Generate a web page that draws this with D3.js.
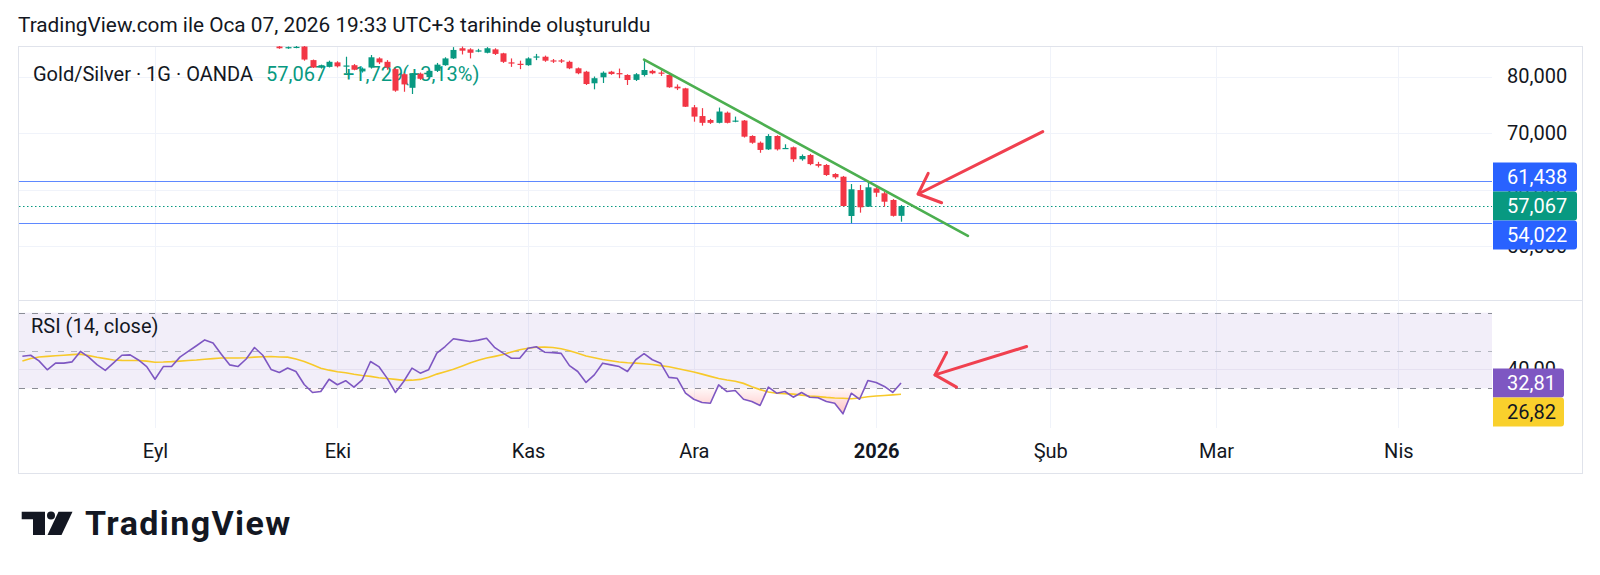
<!DOCTYPE html>
<html><head><meta charset="utf-8">
<script src="https://cdn.jsdelivr.net/npm/d3@7"></script>
<style>html,body{margin:0;padding:0;background:#fff;}svg{display:block;font-family:Roboto,"Noto Sans",sans-serif;}</style>
</head><body><svg id="c" width="1600" height="575"></svg>
<script>
// ---------------- data ----------------
const firstBarDate = "2025-08-08";          // first bar with an RSI value (left edge of chart)
const lastCalendarDate = "2026-04-30";
const holidays = ["2025-12-25", "2026-01-01"];
const candleStartDate = "2025-09-22";

const rsiValues = [47.0,47.5,44.5,39.8,43.3,43.3,44.0,49.5,46.5,42.5,39.5,43.5,47.5,47.7,45.0,41.5,
  34.8,41.5,41.5,46.5,49.5,52.5,55.6,54.0,48.0,42.4,
  41.5,45.5,51.6,47.5,40.0,38.4,40.7,38.9,32.0,27.8,
  28.3,34.8,31.9,34.0,30.6,34.5,44.2,41.5,35.4,27.8,
  33.6,40.7,38.0,39.8,48.6,52.1,56.2,55.5,54.8,55.5,
  56.5,51.5,48.6,45.9,45.9,51.2,52.0,49.1,48.9,48.5,
  42.0,38.9,33.1,37.1,43.3,42.4,41.5,38.9,45.1,48.3,
  45.1,43.3,35.8,35.3,27.4,24.2,22.5,22.1,31.8,28.3,
  28.8,24.2,23.0,20.9,30.6,27.4,28.3,25.3,27.8,25.3,
  25.0,23.0,22.1,16.5,27.4,24.2,34.1,33.1,31.0,27.8,32.81];
const rsiMaValues = [44.4,45.8,46.6,46.9,47.2,47.5,47.8,48.1,47.3,46.4,45.7,45.0,44.8,44.7,44.7,44.4,
  43.8,43.9,44.1,44.4,44.7,45.0,45.4,45.7,46.0,46.0,
  46.0,46.2,46.5,46.7,46.8,46.6,46.5,45.5,44.2,42.5,
  40.6,39.6,38.8,38.2,37.4,36.8,36.3,35.6,35.2,34.7,
  34.2,34.3,34.7,35.8,37.5,38.8,40.1,41.7,43.4,44.8,
  46.0,46.9,47.9,49.2,50.4,51.2,51.7,51.8,51.6,50.9,
  49.9,48.6,47.1,46.2,45.2,44.6,43.9,43.5,43.3,43.0,
  42.6,42.0,41.4,40.5,39.5,38.6,37.5,36.3,35.2,34.4,
  33.7,32.6,30.8,29.3,28.0,27.4,27.2,26.9,26.4,25.9,
  25.6,25.2,24.9,24.7,24.5,24.9,25.5,25.9,26.2,26.5,26.82];

const opens = [85.3,85.0,85.1,85.3,82.9,81.6,81.7,82.5,81.85,82.0,80.9,81.6,83.2,82.6,81.3,80.4,78.0,80.5,79.9,81.0,
  82.0,83.2,85.0,84.8,84.55,84.2,84.8,84.1,82.5,82.25,82.0,83.45,83.5,82.85,82.85,82.6,81.45,80.85,78.8,79.86,
  80.85,80.6,80.27,79.4,80.27,81.0,80.7,80.27,78.2,77.9,74.55,73.0,72.3,71.8,73.6,72.1,72.2,69.47,68.28,67.1,
  69.47,67.25,67.47,65.35,66.1,64.5,64.34,62.74,62.26,55.31,59.9,56.96,60.2,59.33,58.14,55.338];
const highs = [85.5,85.3,85.4,85.5,83.0,82.1,82.8,82.7,83.5,82.2,81.6,83.8,83.4,82.9,81.5,80.6,80.6,80.7,81.2,82.4,
  83.4,85.2,85.3,85.0,84.9,85.2,85.0,84.2,83.2,82.8,83.4,84.0,83.7,83.1,83.1,82.8,81.6,81.0,80.0,80.9,
  81.0,81.4,80.4,80.6,83.0,81.2,81.1,80.4,78.6,78.0,74.96,74.4,72.5,74.5,73.8,72.9,72.3,69.6,68.5,69.8,
  69.6,68.0,67.6,66.2,66.3,64.9,64.5,62.9,62.4,60.97,60.8,61.438,60.5,59.6,58.3,57.26];
const lows = [84.9,84.9,85.0,82.8,81.5,81.4,81.6,81.6,80.6,81.1,80.7,81.4,82.2,81.2,77.3,77.3,76.9,79.4,79.7,80.8,
  81.9,83.1,83.9,83.2,84.3,84.1,83.8,82.4,81.7,81.3,81.9,82.9,82.6,82.4,82.4,81.3,80.4,78.5,77.73,78.85,
  80.3,79.7,78.5,79.2,80.0,80.4,80.1,78.0,77.6,74.6,72.0,71.3,71.6,71.7,71.7,71.9,69.2,68.1,66.5,67.0,
  66.9,67.2,64.9,65.1,64.3,63.9,62.4,61.9,57.0,54.02,55.9,56.9,58.7,56.96,55.2,54.3];
const closes = [85.0,85.2,85.25,83.0,81.6,82.0,82.6,81.8,81.95,81.2,81.4,83.4,82.5,81.6,77.5,78.6,80.5,79.6,81.0,82.1,
  83.2,84.7,84.57,84.2,84.62,85.0,84.0,82.6,82.4,82.15,83.2,83.55,82.8,82.75,82.75,81.45,80.57,78.67,79.7,80.67,
  80.44,80.5,79.38,80.4,81.15,80.57,80.6,78.09,77.9,74.65,72.9,71.8,71.8,73.8,71.8,72.2,69.35,68.28,67.0,69.47,
  67.1,67.35,65.35,65.93,64.5,64.2,62.57,62.16,57.08,60.04,56.85,60.39,59.43,57.84,55.338,57.067];

const priceTicks = [80, 70, 60, 50];
const rsiTicks = [40];
const rsiLevels = [70, 50, 30];
const monthStarts = ["2025-09-01","2025-10-01","2025-11-03","2025-12-01","2026-01-02","2026-02-02","2026-03-02","2026-04-01"];
const monthLabels = ["Eyl","Eki","Kas","Ara","2026","Şub","Mar","Nis"];
const hLineValues = [61.438, 54.022];
const lastPrice = 57.067, changeAbs = 1.729, changePct = 3.13;
const rsiLast = 32.81, rsiMaLast = 26.82;
// drawings: bar index (from firstBarDate) and value
const trendBars = [75, 114.07], trendValues = [83.0, 51.8];
const arrowPriceBars = [123.1, 108.07], arrowPriceVals = [70.25, 59.2];
const arrowPriceHeadBars = [109.28, 110.9], arrowPriceHeadVals = [62.87, 57.66];
const arrowRsiBars = [121.15, 110.1], arrowRsiVals = [52.1, 37.1];
const arrowRsiHeadBars = [111.5, 112.7], arrowRsiHeadVals = [48.9, 30.6];
const visibleBars = [-0.53, 177.3];

// ---------------- build ----------------
const parse = d3.utcParse("%Y-%m-%d"), fmtD = d3.utcFormat("%Y-%m-%d");
const bars = d3.utcDays(parse(firstBarDate), d3.utcDay.offset(parse(lastCalendarDate),1))
  .filter(d => d.getUTCDay() !== 0 && d.getUTCDay() !== 6 && !holidays.includes(fmtD(d))).map(fmtD);
const idx = s => bars.indexOf(s);
const c0 = idx(candleStartDate);
const candles = opens.map((o,k) => ({i:c0+k, o, h:highs[k], l:lows[k], c:closes[k]}));

const locale = d3.formatLocale({decimal:",", thousands:".", grouping:[3], currency:["",""]});
const f3 = locale.format(".3f"), f2 = locale.format(".2f");

const L = 18, R = 1492, AR = 1583, TOP = 46, SPLIT = 300, RB = 428, FB = 474;
const x = d3.scaleLinear().domain(visibleBars).range([L, R]);
const y = d3.scaleLinear().domain([50, 80]).range([246, 76.5]);
const yr = d3.scaleLinear().domain([30, 70]).range([388.3, 312.7]);

const up = "#089981", down = "#f23645", ink = "#131722", grid = "#f0f3fa";
const svg = d3.select("#c");
const defs = svg.append("defs");
defs.append("clipPath").attr("id","pclip").append("rect").attr("x",L).attr("y",TOP).attr("width",R-L).attr("height",SPLIT-TOP);
defs.append("clipPath").attr("id","rclip").append("rect").attr("x",L).attr("y",SPLIT).attr("width",R-L).attr("height",RB-SPLIT);
defs.append("clipPath").attr("id","osclip").append("rect").attr("x",L).attr("y",yr(30)).attr("width",R-L).attr("height",RB-yr(30));
const grad = defs.append("linearGradient").attr("id","osg").attr("gradientUnits","userSpaceOnUse")
  .attr("x1",0).attr("x2",0).attr("y1",yr(30)).attr("y2",yr(12));
grad.append("stop").attr("offset",0).attr("stop-color","#ff5252").attr("stop-opacity",0.04);
grad.append("stop").attr("offset",1).attr("stop-color","#ff5252").attr("stop-opacity",0.45);

// frame
svg.append("rect").attr("x",L+0.5).attr("y",TOP+0.5).attr("width",AR-L-1).attr("height",FB-TOP-1)
  .attr("fill","none").attr("stroke","#e0e3eb");
svg.append("line").attr("x1",L).attr("x2",AR).attr("y1",SPLIT+0.5).attr("y2",SPLIT+0.5).attr("stroke","#e0e3eb");

// vertical grid
svg.append("g").selectAll("line").data(monthStarts).join("line")
  .attr("x1",d=>Math.round(x(idx(d)))+0.5).attr("x2",d=>Math.round(x(idx(d)))+0.5)
  .attr("y1",TOP+1).attr("y2",RB).attr("stroke",grid);
// horizontal grid price
svg.append("g").selectAll("line").data(priceTicks).join("line")
  .attr("x1",L+1).attr("x2",R).attr("y1",d=>Math.round(y(d))+0.5).attr("y2",d=>Math.round(y(d))+0.5).attr("stroke",grid);

// RSI background band + levels
svg.append("rect").attr("x",L+1).attr("width",R-L-1).attr("y",yr(70)).attr("height",yr(30)-yr(70))
  .attr("fill","#7e57c2").attr("fill-opacity",0.1);
svg.append("g").selectAll("line").data(rsiTicks).join("line")
  .attr("x1",L+1).attr("x2",R).attr("y1",d=>Math.round(yr(d))+0.5).attr("y2",d=>Math.round(yr(d))+0.5).attr("stroke","#e6e1f1");
svg.append("g").selectAll("line").data(rsiLevels).join("line")
  .attr("x1",L+1).attr("x2",R).attr("y1",d=>Math.round(yr(d))+0.5).attr("y2",d=>Math.round(yr(d))+0.5)
  .attr("stroke",d=>d===50?"#b2b5be":"#8a8d96").attr("stroke-dasharray","6,7");

// horizontal drawn lines + last price dotted
svg.append("g").selectAll("line").data(hLineValues).join("line")
  .attr("x1",L+1).attr("x2",R).attr("y1",d=>Math.round(y(d))+0.5).attr("y2",d=>Math.round(y(d))+0.5)
  .attr("stroke","#2962ff").attr("stroke-opacity",0.75);
svg.append("line").attr("x1",L+1).attr("x2",R).attr("y1",Math.round(y(lastPrice))+0.5).attr("y2",Math.round(y(lastPrice))+0.5)
  .attr("stroke",up).attr("stroke-dasharray","1.5,2.5");

// legend
svg.append("text").attr("x",33).attr("y",80.5).attr("font-size",20).attr("fill",ink).text("Gold/Silver · 1G · OANDA");
svg.append("text").attr("x",266).attr("y",80.5).attr("font-size",20).attr("fill",up).text(f3(lastPrice));
svg.append("text").attr("x",343).attr("y",80.5).attr("font-size",20).attr("fill",up).text("+" + f3(changeAbs));
svg.append("text").attr("x",402).attr("y",80.5).attr("font-size",20).attr("fill",up).text("(+" + f2(changePct) + "%)");

// candles
const cg = svg.append("g").attr("clip-path","url(#pclip)");
const cs = cg.selectAll("g").data(candles).join("g");
cs.append("line").attr("x1",d=>Math.round(x(d.i))+0.5).attr("x2",d=>Math.round(x(d.i))+0.5)
  .attr("y1",d=>y(d.h)).attr("y2",d=>y(d.l)).attr("stroke",d=>d.c>=d.o?up:down).attr("stroke-width",1.2);
cs.append("rect").attr("x",d=>Math.round(x(d.i))-2.5).attr("width",6)
  .attr("y",d=>y(Math.max(d.o,d.c))).attr("height",d=>Math.max(1.2,Math.abs(y(d.o)-y(d.c))))
  .attr("fill",d=>d.c>=d.o?up:down);

// trend line
svg.append("line").attr("x1",x(trendBars[0])).attr("y1",y(trendValues[0])).attr("x2",x(trendBars[1])).attr("y2",y(trendValues[1]))
  .attr("stroke","#4caf50").attr("stroke-width",2.6).attr("stroke-linecap","round");

// arrows
function arrow(bx, vals, hb, hv, ys){
  const g = svg.append("g").attr("fill","none").attr("stroke","#f0404f").attr("stroke-width",3).attr("stroke-linecap","round").attr("stroke-linejoin","round");
  g.append("line").attr("x1",x(bx[0])).attr("y1",ys(vals[0])).attr("x2",x(bx[1])).attr("y2",ys(vals[1]));
  g.append("path").attr("d",d3.line()([[x(hb[0]),ys(hv[0])],[x(bx[1]),ys(vals[1])],[x(hb[1]),ys(hv[1])]]));
}
arrow(arrowPriceBars, arrowPriceVals, arrowPriceHeadBars, arrowPriceHeadVals, y);
arrow(arrowRsiBars, arrowRsiVals, arrowRsiHeadBars, arrowRsiHeadVals, yr);

// RSI
const rsiPts = rsiValues.map((v,k)=>({i:k, v}));
const maPts = rsiMaValues.map((v,k)=>({i:k, v}));
const rg = svg.append("g").attr("clip-path","url(#rclip)");
rg.append("g").attr("clip-path","url(#osclip)").append("path").datum(rsiPts)
  .attr("d", d3.area().x(d=>x(d.i)).y0(yr(30)).y1(d=>yr(d.v))).attr("fill","url(#osg)");
rg.append("path").datum(maPts).attr("d",d3.line().x(d=>x(d.i)).y(d=>yr(d.v)))
  .attr("fill","none").attr("stroke","#f7c92a").attr("stroke-width",1.6);
rg.append("path").datum(rsiPts).attr("d",d3.line().x(d=>x(d.i)).y(d=>yr(d.v)))
  .attr("fill","none").attr("stroke","#7e57c2").attr("stroke-width",1.6).attr("stroke-linejoin","round");
svg.append("text").attr("x",31).attr("y",333).attr("font-size",20).attr("fill",ink).text("RSI (14, close)");

// price axis
const pAxis = svg.append("g").attr("transform",`translate(${R},0)`)
  .call(d3.axisRight(y).tickValues(priceTicks).tickFormat(f3).tickSize(0).tickPadding(15));
pAxis.select(".domain").remove();
pAxis.selectAll("text").attr("font-size",20).attr("fill",ink).attr("font-family","Roboto");
const rAxis = svg.append("g").attr("transform",`translate(${R},0)`)
  .call(d3.axisRight(yr).tickValues(rsiTicks).tickFormat(f2).tickSize(0).tickPadding(15));
rAxis.select(".domain").remove();
rAxis.selectAll("text").attr("font-size",20).attr("fill",ink).attr("font-family","Roboto");

// time axis
const tAxis = svg.append("g").attr("transform",`translate(0,${RB})`)
  .call(d3.axisBottom(x).tickValues(monthStarts.map(idx)).tickFormat((d,k)=>monthLabels[k]).tickSize(0).tickPadding(16));
tAxis.select(".domain").remove();
tAxis.selectAll("text").attr("font-size",20).attr("fill",ink).attr("font-family","Roboto")
  .attr("font-weight",(d,k)=>monthLabels[k]==="2026"?700:400);

// badges (stacked to avoid overlap, as the reference shows)
function badges(items, ys, h, w){
  items.forEach(b => b.cy = ys(b.v));
  const main = items.find(b=>b.main);
  const above = items.filter(b=>!b.main && b.cy<main.cy).sort((a,b)=>b.cy-a.cy);
  const below = items.filter(b=>!b.main && b.cy>=main.cy).sort((a,b)=>a.cy-b.cy);
  let edge = main.cy - h/2; above.forEach(b=>{ if (b.cy + h/2 > edge) b.cy = edge - h/2; edge = b.cy - h/2; });
  edge = main.cy + h/2; below.forEach(b=>{ if (b.cy - h/2 < edge) b.cy = edge + h/2; edge = b.cy + h/2; });
  const g = svg.append("g").selectAll("g").data(items).join("g");
  g.append("path").attr("d", b => {
      const x0 = R+1, x1 = R+1+w, t = b.cy-h/2, bt = b.cy+h/2, r = 3;
      return `M${x0},${t}H${x1-r}Q${x1},${t} ${x1},${t+r}V${bt-r}Q${x1},${bt} ${x1-r},${bt}H${x0}Z`; })
    .attr("fill", b=>b.color);
  g.append("text").attr("x",R+15).attr("y",b=>b.cy).attr("dy","0.36em").attr("font-size",20)
    .attr("fill",b=>b.text).text(b=>b.label);
}
badges([{v:hLineValues[0],label:f3(hLineValues[0]),color:"#2962ff",text:"#fff"},
        {v:lastPrice,label:f3(lastPrice),color:up,text:"#fff",main:true},
        {v:hLineValues[1],label:f3(hLineValues[1]),color:"#2962ff",text:"#fff"}], y, 29, 84);
badges([{v:rsiLast,label:f2(rsiLast),color:"#7e57c2",text:"#fff",main:true},
        {v:rsiMaLast,label:f2(rsiMaLast),color:"#f9d02c",text:ink}], yr, 29, 71);

// title
svg.append("text").attr("x",18).attr("y",32).attr("font-size",20.8).attr("fill",ink)
  .text("TradingView.com ile Oca 07, 2026 19:33 UTC+3 tarihinde oluşturuldu");

// logo
const lg = svg.append("g").attr("fill",ink);
lg.append("path").attr("d","M21.7,511.7H45V535H33V519.3H21.7Z");
lg.append("circle").attr("cx",51).attr("cy",515.6).attr("r",4);
lg.append("path").attr("d","M58.5,511.7H72.5L61.5,535H47.5Z");
lg.append("text").attr("x",85).attr("y",535).attr("font-size",34).attr("font-weight",700).attr("letter-spacing",1.4).text("TradingView");
</script></body></html>
